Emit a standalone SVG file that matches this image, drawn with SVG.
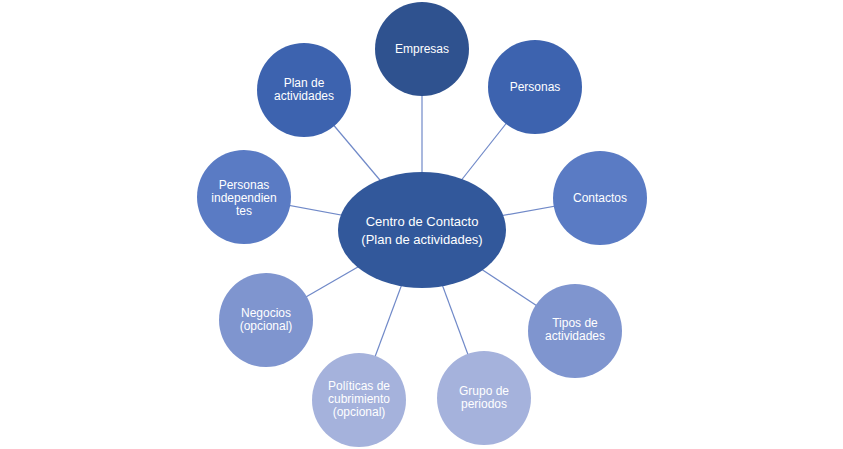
<svg xmlns="http://www.w3.org/2000/svg" width="843" height="449" viewBox="0 0 843 449">
<style>
.t{font-family:"Liberation Sans",Arial,sans-serif;font-size:12px;fill:#fff;text-anchor:middle}
.c{font-family:"Liberation Sans",Arial,sans-serif;font-size:13px;fill:#fff;text-anchor:middle}
.ln{stroke:#7089C8;stroke-width:1.2;fill:none}
</style>
<rect width="843" height="449" fill="#fff"/>
<g id="connectors">
<line class="ln" x1="422" y1="230" x2="422" y2="49"/>
<line class="ln" x1="422" y1="230" x2="535" y2="87"/>
<line class="ln" x1="422" y1="230" x2="600" y2="198"/>
<line class="ln" x1="422" y1="230" x2="575" y2="331"/>
<line class="ln" x1="422" y1="230" x2="484" y2="398"/>
<line class="ln" x1="422" y1="230" x2="359" y2="400"/>
<line class="ln" x1="422" y1="230" x2="266" y2="320"/>
<line class="ln" x1="422" y1="230" x2="244" y2="197"/>
<line class="ln" x1="422" y1="230" x2="304" y2="90"/>
</g>
<g id="empresas"><circle cx="422" cy="49" r="47" fill="#2F528F"/><text class="t" x="422" y="53">Empresas</text></g>
<g id="personas"><circle cx="535" cy="87" r="47" fill="#3D63AF"/><text class="t" x="535" y="91">Personas</text></g>
<g id="contactos"><circle cx="600" cy="198" r="47" fill="#5A7BC4"/><text class="t" x="600" y="202">Contactos</text></g>
<g id="tipos"><circle cx="575" cy="331" r="47" fill="#7F95CF"/><text class="t" x="575" y="327">Tipos de</text><text class="t" x="575" y="340">actividades</text></g>
<g id="grupo"><circle cx="484" cy="398" r="47" fill="#A5B2DC"/><text class="t" x="484" y="395">Grupo de</text><text class="t" x="484" y="408">periodos</text></g>
<g id="politicas"><circle cx="359" cy="400" r="47" fill="#A5B2DC"/><text class="t" x="359" y="390">Políticas de</text><text class="t" x="359" y="403">cubrimiento</text><text class="t" x="359" y="416">(opcional)</text></g>
<g id="negocios"><circle cx="266" cy="320" r="47" fill="#7F95CF"/><text class="t" x="266" y="317">Negocios</text><text class="t" x="266" y="330">(opcional)</text></g>
<g id="personas-indep"><circle cx="244" cy="197" r="47" fill="#5A7BC4"/><text class="t" x="244" y="189">Personas</text><text class="t" x="244" y="202">independien</text><text class="t" x="244" y="215">tes</text></g>
<g id="plan"><circle cx="304" cy="90" r="47" fill="#3D63AF"/><text class="t" x="304" y="87">Plan de</text><text class="t" x="304" y="100">actividades</text></g>
<g id="centro"><ellipse cx="422" cy="230" rx="84" ry="58" fill="#32589B"/><text class="c" x="422" y="226">Centro de Contacto</text><text class="c" x="422" y="244">(Plan de actividades)</text></g>
</svg>
